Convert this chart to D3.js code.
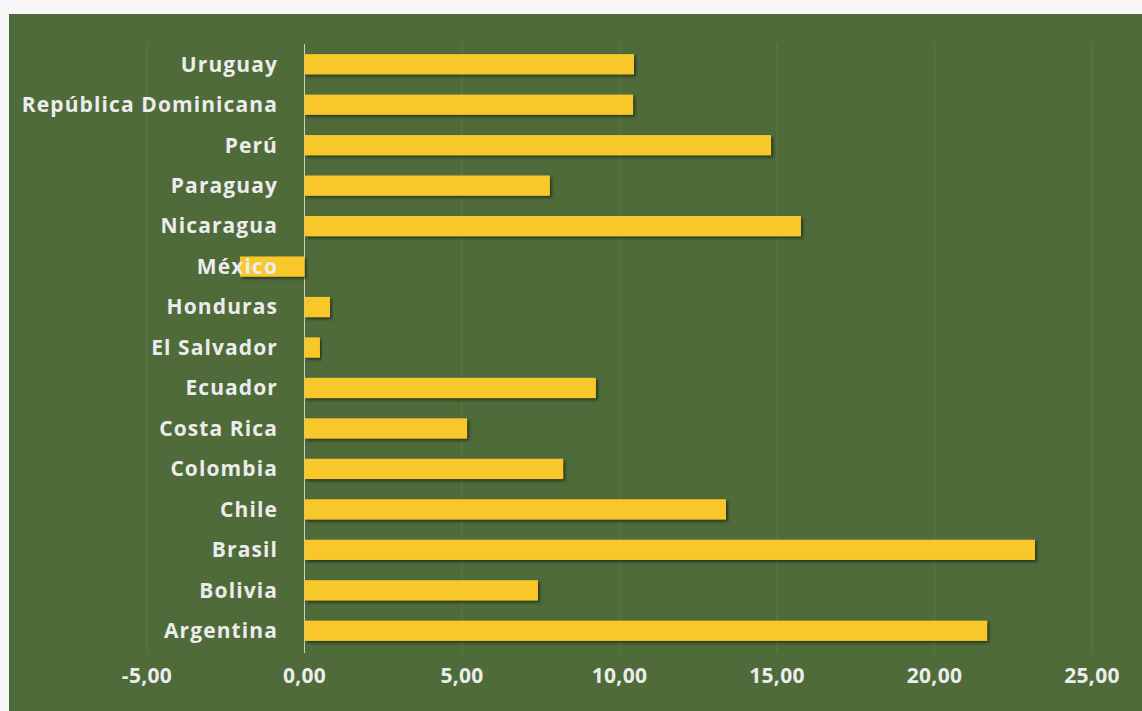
<!DOCTYPE html>
<html>
<head>
<meta charset="utf-8">
<script src="https://cdn.jsdelivr.net/npm/d3@7"></script>
<style>
  body { margin: 0; background: #f7f7f7; }
  text { font-family: "Open Sans", Lato, sans-serif; font-weight: bold; fill: #ececec; }
</style>
</head>
<body>
<script>
// countries, top to bottom as drawn
const countries = ["Uruguay", "República Dominicana", "Perú", "Paraguay", "Nicaragua", "México",
  "Honduras", "El Salvador", "Ecuador", "Costa Rica", "Colombia", "Chile", "Brasil", "Bolivia", "Argentina"]
const values = [10.46, 10.43, 14.81, 7.79, 15.76, -2.05, 0.81, 0.49, 9.25, 5.16, 8.21, 13.38, 23.19, 7.41, 21.67]
const ticks = [-5, 0, 5, 10, 15, 20, 25]

const W = 1142, H = 711

const svg = d3.select("body").append("svg")
    .attr("width", W)
    .attr("height", H)

svg.append("rect")
    .attr("x", 9).attr("y", 14)
    .attr("width", W - 9).attr("height", H - 14)
    .attr("fill", "#506b3a")

const defs = svg.append("defs")
const f = defs.append("filter").attr("id", "shadow")
    .attr("x", "-10%").attr("y", "-30%").attr("width", "120%").attr("height", "180%")
f.append("feDropShadow")
    .attr("dx", 2).attr("dy", 2).attr("stdDeviation", 1.5)
    .attr("flood-color", "#1f2a14").attr("flood-opacity", 0.8)

const x = d3.scaleLinear()
    .domain([-5, 25])
    .range([147, 1092])

const y = d3.scaleBand()
    .domain(countries)
    .range([44, 651])
    .paddingInner(0.5)
    .paddingOuter(0.25)

// vertical gridlines
svg.append("g").selectAll("line")
    .data(ticks.filter(t => t !== 0))
    .enter().append("line")
    .attr("x1", d => x(d)).attr("x2", d => x(d))
    .attr("y1", 44).attr("y2", 652)
    .attr("stroke", "#5a7542")
    .attr("stroke-width", 1.5)

// zero line
svg.append("line")
    .attr("x1", x(0)).attr("x2", x(0))
    .attr("y1", 44).attr("y2", 653)
    .attr("stroke", "#c9d2bd")
    .attr("stroke-width", 1)

svg.append("g").selectAll("rect")
    .data(values)
    .enter().append("rect")
    .attr("x", d => x(Math.min(0, d)))
    .attr("y", (d, i) => y(countries[i]))
    .attr("width", d => Math.abs(x(d) - x(0)))
    .attr("height", y.bandwidth())
    .attr("fill", "#f8c82a")
    .attr("filter", "url(#shadow)")

// category labels
svg.append("g").selectAll("text")
    .data(countries)
    .enter().append("text")
    .attr("x", 278)
    .attr("y", d => y(d) + y.bandwidth() / 2)
    .attr("dy", "0.35em")
    .attr("text-anchor", "end")
    .attr("font-size", 21)
    .attr("letter-spacing", 1.1)
    .text(d => d)

// x tick labels
svg.append("g").selectAll("text")
    .data(ticks)
    .enter().append("text")
    .attr("x", d => x(d))
    .attr("y", 676)
    .attr("dy", "0.35em")
    .attr("text-anchor", "middle")
    .attr("font-size", 21)
    .attr("letter-spacing", 0.3)
    .text(d => d3.format(".2f")(d).replace(".", ",").replace("−", "-"))
</script>
</body>
</html>
